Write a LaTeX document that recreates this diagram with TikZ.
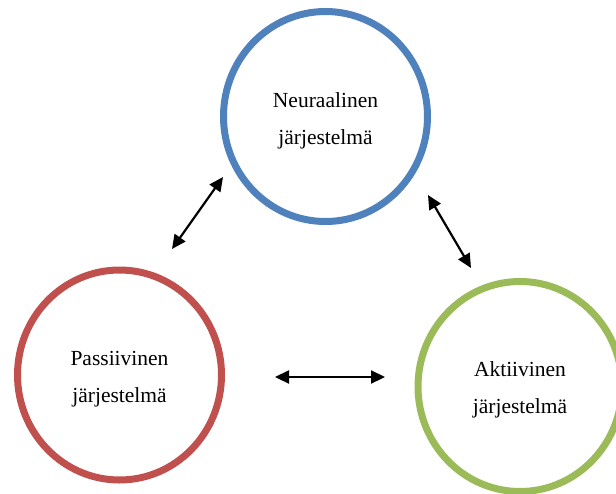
\documentclass[tikz,border=0pt]{standalone}
\usepackage{fontspec}
\setmainfont{Liberation Serif}
\usetikzlibrary{arrows.meta,shapes.geometric}
\definecolor{cblue}{HTML}{4F81BD}
\definecolor{cred}{HTML}{C0504D}
\definecolor{cgreen}{HTML}{9BBB59}
\begin{document}
\begin{tikzpicture}[x=1pt,y=-1pt,
  sys/.style={ellipse,line width=7pt,minimum width=204pt,minimum height=210pt,inner sep=0pt},
  systext/.style={align=center,font=\fontsize{21.5}{37}\selectfont},
  link/.style={line width=2.2pt,{Triangle[length=14pt,width=13pt]}-{Triangle[length=14pt,width=13pt]}}]
\useasboundingbox (0,0) rectangle (616,493);
\node[sys,draw=cblue] (neu) at (325.5,116.5) {};
\node[sys,draw=cred] (pas) at (119.5,375) {};
\node[sys,draw=cgreen] (akt) at (520,386.5) {};
\node[systext] (neut) at ([yshift=-4pt]neu.center) {Neuraalinen\\järjestelmä};
\node[systext] (past) at ([yshift=-4pt]pas.center) {Passiivinen\\järjestelmä};
\node[systext] (aktt) at ([yshift=-3pt]akt.center) {Aktiivinen\\järjestelmä};
\coordinate (a1) at (172,249);
\coordinate (a2) at (223,177);
\coordinate (b1) at (428,195);
\coordinate (b2) at (471,268);
\coordinate (c1) at (275,377);
\coordinate (c2) at (385,377);
\draw[link] (a1) -- (a2);
\draw[link] (b1) -- (b2);
\draw[link] (c1) -- (c2);
\end{tikzpicture}
\end{document}
